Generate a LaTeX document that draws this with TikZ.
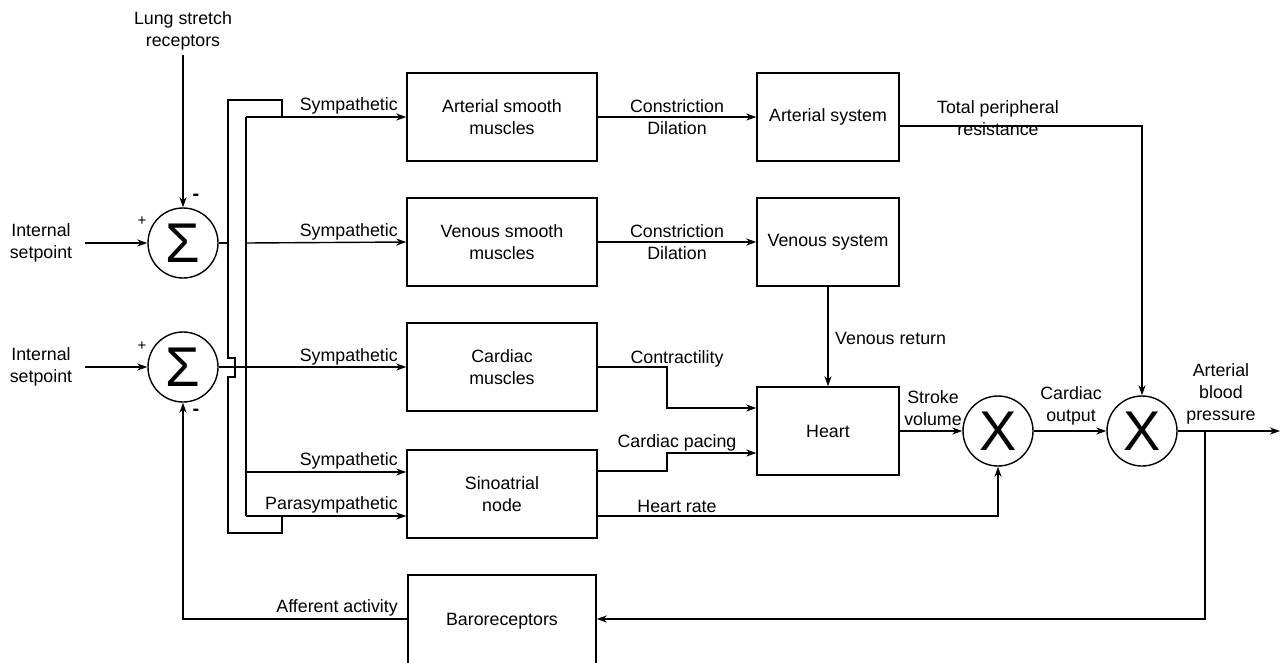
\documentclass[tikz,border=0pt]{standalone}
\usepackage{fontspec}
\setmainfont{Liberation Sans}
\usetikzlibrary{arrows.meta}
\begin{document}
\begin{tikzpicture}[x=1pt,y=-1pt,
  every node/.style={font=\fontsize{17.8}{22}\selectfont, inner sep=0pt},
  blk/.style={draw, line width=1.4pt, minimum width=190pt, minimum height=88pt, align=center},
  sblk/.style={blk, minimum width=142pt},
  junc/.style={draw, circle, line width=1.4pt, minimum size=70pt},
  bigsym/.style={font=\fontsize{56}{56}\selectfont},
  lbl/.style={align=center},
  sgn/.style={font=\fontsize{15}{15}\selectfont},
  msgn/.style={font=\fontsize{20}{20}\selectfont\bfseries},
  wire/.style={line width=1.4pt},
  arr/.style={wire, -{Stealth[length=10pt,width=7pt,inset=3pt]}},
]
\path[use as bounding box] (0,0) rectangle (1282,662);

% blocks
\node[blk] (asm) at (502,117) {Arterial smooth\\muscles};
\node[blk] (vsm) at (502,242) {Venous smooth\\muscles};
\node[blk] (cm) at (502,367) {Cardiac\\muscles};
\node[blk] (san) at (502,494) {Sinoatrial\\node};
\node[blk, minimum width=188pt, minimum height=92pt] (baro) at (502,621) {Baroreceptors};
\node[sblk] (as) at (828,117) {Arterial system};
\node[sblk] (vs) at (828,242) {Venous system};
\node[sblk] (heart) at (828,431) {Heart};
\node[junc, bigsym] (s1) at (183,243) {Σ};
\node[junc, bigsym] (s2) at (183,367) {Σ};
\node[junc, bigsym] (x1) at (998,431) {X};
\node[junc, bigsym] (x2) at (1142,431) {X};

% inputs
\node[lbl] (lung) at (183,31) {Lung stretch\\receptors};
\node[lbl] (sp1) at (41,243) {Internal\\setpoint};
\node[lbl] (sp2) at (41,367) {Internal\\setpoint};
\node[sgn] (p1s) at (142,221) {+};
\node[msgn] (m1s) at (196,197) {-};
\node[sgn] (p2s) at (142,346) {+};
\node[msgn] (m2s) at (196,412) {-};

% coordinates
\coordinate (lungend) at (183,55);
\coordinate (in1) at (85,243);
\coordinate (in2) at (85,367);
\coordinate (lb1) at (228,243);
\coordinate (rtop) at (246,117);
\coordinate (rv) at (246,243);
\coordinate (rs) at (246,472);
\coordinate (rp) at (246,516);
\coordinate (tpr) at (1142,126);
\coordinate (c1) at (667,367);
\coordinate (c2) at (667,408);
\coordinate (pc1) at (667,471);
\coordinate (pc2) at (667,453);
\coordinate (h1) at (998,516);
\coordinate (out) at (1280,431);
\coordinate (fb) at (1205,431);
\coordinate (bar) at (1205,619);
\coordinate (bal) at (183,619);

% wiring on the left
\draw[arr] (lungend) -- (s1.north);
\draw[arr] (in1) -- (s1.west);
\draw[arr] (in2) -- (s2.west);
\draw[wire] (s1.east) -- (lb1);
\draw[wire] (282,117) -- (282,100) -- (228,100) -- (lb1) -- (228,358) -- (235,358) -- (235,377) -- (228,377) -- (228,533) -- (282,533) -- (282,516);
\draw[wire] (rtop) -- (rp);
\draw[arr] (rtop) -- (asm.west);
\draw[arr] (rv) -- (vsm.west);
\draw[arr] (s2.east) -- (cm.west);
\draw[arr] (rs) -- (rs -| san.west);
\draw[arr] (rp) -- (rp -| san.west);

\node[anchor=base east] (l1) at (398,110) {Sympathetic};
\node[anchor=base east] (l2) at (398,236) {Sympathetic};
\node[anchor=base east] (l3) at (398,361) {Sympathetic};
\node[anchor=base east] (l4) at (398,465) {Sympathetic};
\node[anchor=base east] (l5) at (398,509) {Parasympathetic};

% middle
\draw[arr] (asm.east) -- (as.west);
\draw[arr] (vsm.east) -- (vs.west);
\node[lbl] (cd1) at (677,117) {Constriction\\Dilation};
\node[lbl] (cd2) at (677,242) {Constriction\\Dilation};

\draw[arr] (as.east |- tpr) -- (tpr) -- (x2.north);
\node[lbl] (tprl) at (998,118) {Total peripheral\\resistance};

\draw[arr] (vs.south) -- (heart.north);
\node[anchor=west] (vr) at (835,338) {Venous return};

\draw[arr] (cm.east) -- (c1) -- (c2) -- (c2 -| heart.west);
\node[anchor=base] (ctl) at (677,363) {Contractility};
\draw[arr] (san.east |- pc1) -- (pc1) -- (pc2) -- (pc2 -| heart.west);
\node[anchor=base] (cpl) at (677,447) {Cardiac pacing};
\draw[arr] (san.east |- h1) -- (h1) -- (x1.south);
\node[anchor=base] (hrl) at (677,512) {Heart rate};

% right
\draw[arr] (heart.east) -- (x1.west);
\node[lbl] (svl) at (933,408) {Stroke\\volume};
\draw[arr] (x1.east) -- (x2.west);
\node[lbl] (col) at (1071,406) {Cardiac\\output};
\draw[arr] (x2.east) -- (out);
\node[lbl] (abp) at (1221,394) {Arterial\\blood\\pressure};

\draw[arr] (fb) -- (bar) -- (bar -| baro.east);
\draw[arr] (bar -| baro.west) -- (bal) -- (s2.south);
\node[anchor=base east] (afl) at (398,612) {Afferent activity};
\end{tikzpicture}
\end{document}
